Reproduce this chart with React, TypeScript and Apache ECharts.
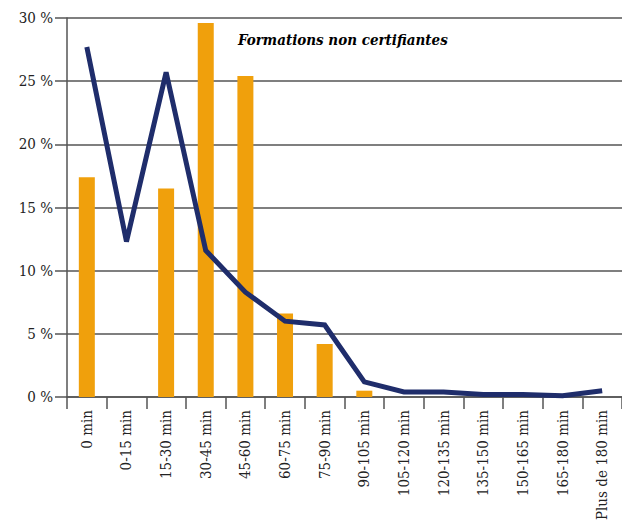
import React, { useEffect, useRef } from "react";
import * as echarts from "echarts";

const categories = [
  "0 min", "0-15 min", "15-30 min", "30-45 min", "45-60 min", "60-75 min", "75-90 min",
  "90-105 min", "105-120 min", "120-135 min", "135-150 min", "150-165 min", "165-180 min", "Plus de 180 min",
];
const barValues = [17.4, 0, 16.5, 29.6, 25.4, 6.6, 4.2, 0.5, 0, 0, 0, 0, 0, 0];
const lineValues = [27.7, 12.3, 25.7, 11.6, 8.3, 6.0, 5.7, 1.2, 0.4, 0.4, 0.2, 0.2, 0.1, 0.5];
const yTicks = { min: 0, max: 30, interval: 5 };
const title = "Formations non certifiantes";

const FONT = "DejaVu Serif Condensed";
const GRID_COLOR = "#555555";

export default function App() {
  const ref = useRef<HTMLDivElement>(null);
  useEffect(() => {
    if (!ref.current) return;
    const chart = echarts.init(ref.current, null, { renderer: "svg" });
    chart.setOption({
      animation: false,
      backgroundColor: "#ffffff",
      textStyle: { fontFamily: FONT },
      title: {
        text: title,
        left: 233,
        top: 27,
        textStyle: {
          fontFamily: FONT,
          fontSize: 15,
          fontWeight: "bold",
          fontStyle: "italic",
          color: "#000000",
        },
      },
      grid: { left: 67, top: 18, width: 562, height: 379, containLabel: false },
      xAxis: {
        type: "category",
        data: categories,
        boundaryGap: true,
        axisLine: { show: true, lineStyle: { color: GRID_COLOR, width: 1.5 } },
        axisTick: { show: true, length: 12, inside: false, alignWithLabel: false, interval: 0, lineStyle: { color: GRID_COLOR, width: 1.5 } },
        axisLabel: {
          interval: 0,
          rotate: 90,
          margin: 13,
          fontFamily: FONT,
          fontSize: 15,
          color: "#222222",
        },
        splitLine: { show: false },
      },
      yAxis: {
        type: "value",
        min: yTicks.min,
        max: yTicks.max,
        interval: yTicks.interval,
        axisLine: { show: true, lineStyle: { color: GRID_COLOR, width: 1.5 } },
        axisTick: { show: true, length: 12, inside: false, lineStyle: { color: GRID_COLOR, width: 1.5 } },
        axisLabel: {
          formatter: "{value} %",
          margin: 14,
          fontFamily: FONT,
          fontSize: 15,
          color: "#222222",
        },
        splitLine: { show: true, lineStyle: { color: GRID_COLOR, width: 1.5 } },
      },
      series: [
        {
          type: "bar",
          data: barValues,
          barWidth: 16,
          itemStyle: { color: "#f0a00c" },
          silent: true,
        },
        {
          type: "line",
          data: lineValues,
          symbol: "none",
          showSymbol: false,
          lineStyle: { color: "#1f2d6b", width: 5, join: "miter" },
          z: 3,
          silent: true,
        },
      ],
    });
    return () => chart.dispose();
  }, []);
  return (
    <div
      ref={ref}
      style={{ position: "fixed", left: 0, top: 0, width: 622, height: 531 }}
    />
  );
}
